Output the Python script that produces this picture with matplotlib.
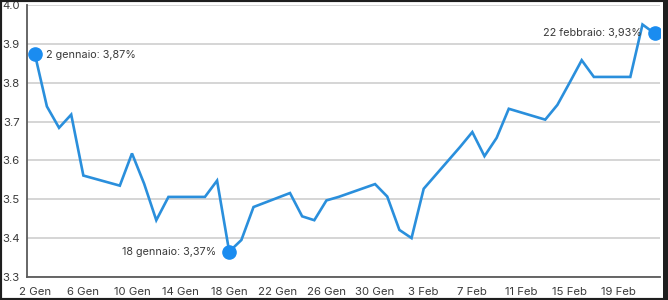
import matplotlib
matplotlib.use("Agg")
import matplotlib.pyplot as plt
import matplotlib.dates as mdates
from matplotlib.patches import Rectangle
import pandas as pd

plt.rcParams['font.family'] = ['Inter', 'DejaVu Sans']

dates = ["2023-01-02", "2023-01-03", "2023-01-04", "2023-01-05", "2023-01-06",
         "2023-01-09", "2023-01-10", "2023-01-11", "2023-01-12", "2023-01-13",
         "2023-01-16", "2023-01-17", "2023-01-18", "2023-01-19", "2023-01-20",
         "2023-01-23", "2023-01-24", "2023-01-25", "2023-01-26", "2023-01-27",
         "2023-01-30", "2023-01-31", "2023-02-01", "2023-02-02", "2023-02-03",
         "2023-02-06", "2023-02-07", "2023-02-08", "2023-02-09", "2023-02-10",
         "2023-02-13", "2023-02-14", "2023-02-15", "2023-02-16", "2023-02-17",
         "2023-02-20", "2023-02-21", "2023-02-22"]
values = [3.875, 3.739, 3.684, 3.718, 3.561,
          3.535, 3.618, 3.540, 3.446, 3.506,
          3.506, 3.548, 3.365, 3.395, 3.480,
          3.516, 3.456, 3.446, 3.497, 3.506,
          3.539, 3.507, 3.421, 3.400, 3.527,
          3.635, 3.673, 3.611, 3.658, 3.733,
          3.705, 3.743, 3.800, 3.858, 3.815,
          3.815, 3.950, 3.927]

tick_dates = ["2023-01-02", "2023-01-06", "2023-01-10", "2023-01-14", "2023-01-18",
              "2023-01-22", "2023-01-26", "2023-01-30", "2023-02-03", "2023-02-07",
              "2023-02-11", "2023-02-15", "2023-02-19"]
tick_labels = ["2 Gen", "6 Gen", "10 Gen", "14 Gen", "18 Gen", "22 Gen", "26 Gen",
               "30 Gen", "3 Feb", "7 Feb", "11 Feb", "15 Feb", "19 Feb"]
y_ticks = [3.3, 3.4, 3.5, 3.6, 3.7, 3.8, 3.9, 4.0]

highlight_dates = ["2023-01-02", "2023-01-18", "2023-02-22"]
highlight_labels = ["2 gennaio: 3,87%", "18 gennaio: 3,37%", "22 febbraio: 3,93%"]

x = pd.to_datetime(dates)
xt = pd.to_datetime(tick_dates)
xh = pd.to_datetime(highlight_dates)
yh = [values[dates.index(d)] for d in highlight_dates]

fig = plt.figure(figsize=(6.68, 3.0), dpi=100, facecolor='white')
ax = fig.add_axes([0.040, 0.077, 0.948, 0.906])

ax.plot(x, values, color='#2a8fdc', lw=1.9, solid_joinstyle='miter', zorder=3)
ax.plot(xh, yh, 'o', color='#1a8cf0', ms=9.5, zorder=4)

txt_color = '#3a3a3a'
offsets = [(8, -1, 'left'), (-9, 0, 'right'), (-9, 0, 'right')]
for xx, yy, lab, (dx, dy, ha) in zip(xh, yh, highlight_labels, offsets):
    ax.annotate(lab, (xx, yy), xytext=(dx, dy), textcoords='offset points',
                ha=ha, va='center', fontsize=7.8, color=txt_color, zorder=5)

x0 = x[0]
ax.set_xlim(x0 - pd.Timedelta(days=0.66), x0 + pd.Timedelta(days=51.44))
ax.set_ylim(3.3, 4.0)
ax.set_yticks(y_ticks)
ax.set_yticklabels([f"{v:.1f}" for v in y_ticks])
ax.set_xticks(xt)
ax.set_xticklabels(tick_labels)
ax.tick_params(axis='both', length=0, labelsize=8.2, colors=txt_color)
ax.tick_params(axis='x', pad=7)
ax.tick_params(axis='y', pad=5)

ax.grid(axis='y', color='#d2d2d2', lw=1.3, zorder=0)
ax.set_axisbelow(True)
for s in ['top', 'right']:
    ax.spines[s].set_visible(False)
for s in ['left', 'bottom']:
    ax.spines[s].set_color('#5a5a5a')
    ax.spines[s].set_linewidth(1.3)

# dark frame around the picture
fig.patches.append(Rectangle((0, 0), 1, 1, transform=fig.transFigure, fill=False,
                             edgecolor='#1e1e1e', lw=3, zorder=10))
fig.patches.append(Rectangle((0.992, 0), 0.008, 1, transform=fig.transFigure,
                             facecolor='#1e1e1e', edgecolor='none', zorder=10))

fig.savefig("out.png", dpi=100, facecolor='white')
